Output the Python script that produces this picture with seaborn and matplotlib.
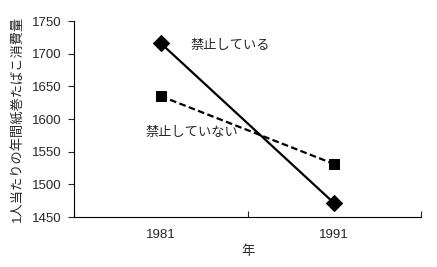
import matplotlib
matplotlib.use("Agg")
import matplotlib.pyplot as plt
import seaborn as sns
import pandas as pd
from matplotlib.ticker import FixedLocator

years = ["1981", "1991"]
banned = [1716, 1471]
not_banned = [1635, 1531]
series_names = ["禁止している", "禁止していない"]

sns.set_style("white")
plt.rcParams['font.family'] = ['Liberation Sans', 'Noto Sans CJK JP', 'DejaVu Sans']

df = pd.DataFrame({
    "pos": [0, 1, 0, 1],
    "value": banned + not_banned,
    "series": [series_names[0]] * 2 + [series_names[1]] * 2,
})

fig = plt.figure(figsize=(4.37, 2.67), dpi=100)
ax = fig.add_axes([74/437, 1-217/267, (421-74)/437, (217-21)/267])

sns.lineplot(data=df[df.series == series_names[0]], x="pos", y="value", ax=ax,
             color="black", lw=1.6, marker="D", markersize=8.5, markeredgecolor="black",
             legend=False)
sns.lineplot(data=df[df.series == series_names[1]], x="pos", y="value", ax=ax,
             color="black", lw=1.6, marker="s", markersize=7, markeredgecolor="black",
             linestyle=(0, (3, 1.5)), legend=False)

ax.set_xlim(-0.5, 1.5)
ax.set_ylim(1450, 1750)
ax.set_yticks([1450, 1500, 1550, 1600, 1650, 1700, 1750])
ax.set_xticks([0, 1])
ax.set_xticklabels(years)
ax.xaxis.set_minor_locator(FixedLocator([-0.5, 0.5, 1.5]))
ax.tick_params(axis="x", which="major", length=0, labelsize=9.5, pad=9)
ax.tick_params(axis="x", which="minor", length=4, direction="in", width=0.8, bottom=True)
ax.tick_params(axis="y", which="major", length=4, direction="out", width=0.8, labelsize=9.5, pad=5, left=True)

for s in ["top", "right"]:
    ax.spines[s].set_visible(False)
for s in ["left", "bottom"]:
    ax.spines[s].set_color("black")
    ax.spines[s].set_linewidth(0.8)

ax.set_xlabel("年", fontsize=9.5, labelpad=3)
ax.set_ylabel("1人当たりの年間紙巻たばこ消費量", fontsize=9.5, labelpad=6)

ax.text(0.17, 1712, series_names[0], fontsize=9.5, va="center", ha="left")
ax.text(-0.09, 1578, series_names[1], fontsize=9.5, va="center", ha="left")

fig.savefig("out.png", dpi=100)
